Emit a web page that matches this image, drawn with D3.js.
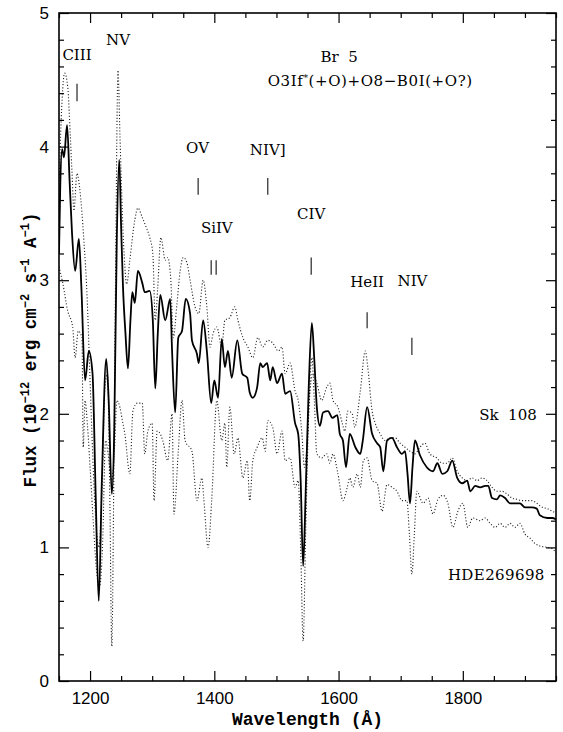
<!DOCTYPE html>
<html><head><meta charset="utf-8">
<script src="https://cdn.jsdelivr.net/npm/d3@7/dist/d3.min.js"></script>
<style>body{margin:0;background:#fff}svg{display:block}</style>
</head><body>
<svg id="c" width="563" height="732"></svg>
<script>
// ---------- data (wavelength in Å, flux in 1e-12 erg cm^-2 s^-1 A^-1) ----------
const br5Wave = [1150,1152,1155,1158,1163,1167,1171,1176,1182,1186,1192,1198,1204,1209,1214,1219,1226,1230,1235,1239,1243,1247,1250,1253,1257,1261,1265,1268,1272,1277,1284,1288,1296,1301,1305,1309,1313,1321,1329,1332,1337,1342,1348,1354,1361,1364,1372,1375,1382,1388,1395,1400,1406,1412,1417,1422,1428,1437,1445,1453,1457,1462,1469,1474,1478,1485,1490,1494,1501,1509,1514,1522,1530,1535,1539,1543,1547,1552,1557,1561,1565,1570,1575,1583,1590,1598,1602,1607,1612,1618,1627,1635,1639,1646,1654,1662,1667,1672,1678,1686,1694,1702,1707,1711,1715,1719,1723,1731,1742,1752,1759,1767,1775,1783,1791,1799,1807,1812,1820,1828,1836,1841,1847,1855,1860,1868,1876,1884,1892,1900,1911,1919,1924,1936,1944,1950];
const br5Flux = [3.2,3.7,3.98,3.92,4.16,3.75,3.35,3.07,3.31,2.95,2.25,2.47,2.3,1.4,0.6,1.5,2.41,2.1,1.4,1.9,3.3,3.9,3.4,2.95,2.6,2.34,2.7,2.91,2.83,3.07,2.98,2.91,2.92,2.7,2.19,2.6,2.89,2.7,2.86,2.47,2.01,2.57,2.62,2.86,2.75,2.55,2.45,2.38,2.7,2.47,2.08,2.25,2.12,2.56,2.35,2.47,2.27,2.55,2.3,2.27,2.16,2.12,2.2,2.38,2.35,2.38,2.25,2.35,2.23,2.3,2.15,2.17,1.93,1.85,1.5,0.86,1.4,2.2,2.68,2.4,2.05,1.91,2.01,2.02,1.97,1.99,1.85,1.8,1.6,1.85,1.75,1.7,1.8,2.05,1.85,1.78,1.75,1.57,1.8,1.82,1.75,1.7,1.72,1.55,1.33,1.6,1.8,1.69,1.6,1.57,1.63,1.55,1.57,1.65,1.52,1.48,1.5,1.42,1.46,1.45,1.46,1.46,1.37,1.36,1.39,1.37,1.33,1.33,1.33,1.3,1.3,1.29,1.24,1.22,1.22,1.21];

const sk108Wave = [1150,1152,1155,1159,1164,1168,1171,1174,1179,1183,1187,1190,1195,1200,1203,1208,1214,1219,1224,1228,1232,1235,1238,1241,1245,1248,1252,1256,1259,1264,1272,1277,1284,1290,1296,1301,1305,1309,1314,1321,1325,1330,1334,1340,1345,1350,1356,1361,1369,1375,1382,1388,1393,1398,1404,1412,1417,1425,1433,1438,1446,1454,1462,1470,1478,1486,1494,1503,1509,1514,1522,1530,1535,1541,1545,1549,1553,1558,1565,1573,1581,1586,1591,1599,1606,1610,1615,1622,1626,1635,1643,1647,1654,1659,1667,1675,1683,1691,1699,1707,1715,1723,1731,1739,1747,1758,1767,1775,1783,1791,1799,1807,1815,1823,1831,1839,1847,1855,1863,1871,1879,1887,1895,1903,1911,1919,1928,1936,1944,1950];
const sk108Flux = [3.6,3.99,4.35,4.55,4.45,4.1,3.8,3.52,3.8,3.7,3.5,3.3,2.9,2.25,1.85,1.3,1.0,1.4,2.2,2.3,1.3,0.26,1.4,3.0,4.57,4.1,3.5,3.1,2.97,3.15,3.45,3.54,3.47,3.4,3.32,3.2,2.7,2.95,3.32,3.15,3.17,3.0,2.57,2.83,3.07,3.17,3.13,3.0,2.8,2.75,3.0,2.8,2.5,2.6,2.65,2.5,2.7,2.72,2.8,2.7,2.57,2.5,2.42,2.57,2.5,2.55,2.53,2.47,2.5,2.3,2.38,2.17,2.1,1.85,1.6,1.75,2.1,2.3,2.23,2.1,2.2,2.23,2.1,2.05,1.93,1.87,2.02,2.0,1.9,2.17,2.47,2.35,2.02,1.93,1.85,1.8,1.82,1.82,1.78,1.75,1.72,1.7,1.75,1.78,1.7,1.67,1.63,1.63,1.67,1.57,1.52,1.5,1.52,1.5,1.52,1.5,1.45,1.42,1.42,1.4,1.37,1.36,1.35,1.35,1.35,1.33,1.3,1.29,1.27,1.26];

const hdeWave = [1150,1156,1164,1172,1176,1181,1187,1189,1192,1196,1200,1205,1210,1215,1220,1225,1229,1235,1240,1243,1248,1252,1256,1264,1269,1276,1284,1288,1293,1300,1303,1308,1313,1317,1325,1332,1335,1342,1348,1353,1364,1372,1380,1383,1390,1396,1404,1412,1417,1420,1425,1432,1438,1446,1453,1457,1462,1469,1477,1482,1486,1494,1501,1509,1514,1522,1530,1535,1539,1543,1547,1552,1557,1561,1565,1573,1581,1586,1591,1599,1607,1614,1618,1623,1630,1635,1640,1646,1654,1662,1670,1678,1686,1694,1702,1710,1714,1718,1722,1726,1736,1744,1752,1760,1768,1776,1784,1792,1800,1808,1816,1828,1836,1844,1852,1860,1868,1876,1884,1892,1900,1908,1916,1924,1936,1944,1950];
const hdeFlux = [3.1,2.98,2.77,2.65,2.42,2.62,2.57,1.75,2.1,1.9,1.6,1.2,0.85,0.7,1.0,1.8,1.7,1.5,1.8,2.1,2.05,1.95,1.85,1.55,2.02,2.08,2.08,1.7,1.87,1.93,1.35,1.87,1.85,1.8,1.65,2.0,1.25,1.72,2.1,1.8,1.72,1.35,1.52,1.37,1.0,1.37,2.1,1.8,1.93,1.6,2.05,1.7,1.82,1.52,1.65,1.35,1.65,1.75,1.82,1.72,1.95,1.9,1.7,1.87,1.65,1.67,1.45,1.5,1.0,0.3,1.1,2.0,2.42,2.1,1.7,1.67,1.7,1.63,1.7,1.55,1.35,1.45,1.52,1.45,1.55,1.45,1.65,1.67,1.5,1.48,1.27,1.47,1.45,1.42,1.35,1.35,1.1,0.8,1.1,1.42,1.33,1.37,1.25,1.36,1.39,1.33,1.15,1.27,1.33,1.15,1.22,1.2,1.22,1.18,1.15,1.18,1.15,1.18,1.15,1.18,1.1,1.07,1.03,1.01,1.0,0.99,0.96];

const xMajorTicks = [1200,1400,1600,1800];
const xMinorTicks = [1150,1250,1300,1350,1450,1500,1550,1650,1700,1750,1850,1900,1950];
const yMajorTicks = [0,1,2,3,4,5];
const yMinorTicks = [0.2,0.4,0.6,0.8,1.2,1.4,1.6,1.8,2.2,2.4,2.6,2.8,3.2,3.4,3.6,3.8,4.2,4.4,4.6,4.8];

// spectral line identifications
const lineNames = ["CIII","NV","OV","NIV]","SiIV","CIV","HeII","NIV"];
const lineLabelWave = [1179,1245,1373,1486,1404,1556,1646,1719];
const lineLabelFlux = [4.65,4.76,3.95,3.94,3.35,3.46,2.95,2.96];
const markerWave = [1179,1374,1486,1395,1403,1556,1646,1718];
const markerTop = [4.47,3.765,3.765,3.15,3.15,3.17,2.76,2.57];
const markerBottom = [4.34,3.64,3.64,3.04,3.04,3.04,2.64,2.44];

// ---------- chart ----------
const M = {left:59, right:556, top:13, bottom:681};
const x = d3.scaleLinear().domain([1150,1950]).range([M.left, M.right]);
const y = d3.scaleLinear().domain([0,5]).range([M.bottom, M.top]);
const svg = d3.select("#c");

const serif = "'DejaVu Serif', serif";
const mono = "'Liberation Mono', 'DejaVu Sans Mono', monospace";
const sans = "'Liberation Sans', Arial, sans-serif";

svg.append("clipPath").attr("id","plotclip")
  .append("rect").attr("x",M.left).attr("y",M.top).attr("width",M.right-M.left).attr("height",M.bottom-M.top);

const line = d3.line().x(d=>x(d[0])).y(d=>y(d[1])).curve(d3.curveMonotoneX);
const zip = (a,b)=>a.map((v,i)=>[v,b[i]]);

const g = svg.append("g").attr("clip-path","url(#plotclip)");
g.append("path").datum(zip(sk108Wave, sk108Flux)).attr("d",line)
  .attr("fill","none").attr("stroke","#222").attr("stroke-width",1.1).attr("stroke-dasharray","1.1,2");
g.append("path").datum(zip(hdeWave, hdeFlux)).attr("d",line)
  .attr("fill","none").attr("stroke","#222").attr("stroke-width",1.1).attr("stroke-dasharray","1.1,2");
g.append("path").datum(zip(br5Wave, br5Flux)).attr("d",line)
  .attr("fill","none").attr("stroke","#000").attr("stroke-width",1.8).attr("stroke-linejoin","round");

// axes (ticks pointing inward on all four sides)
function styleAxis(sel){ sel.select(".domain").remove(); sel.selectAll("line").attr("stroke","#000").attr("stroke-width",1.2); }
svg.append("g").attr("transform",`translate(0,${M.bottom})`)
  .call(d3.axisBottom(x).tickValues(xMinorTicks).tickSize(-5).tickFormat("")).call(styleAxis);
svg.append("g").attr("transform",`translate(0,${M.bottom})`)
  .call(d3.axisBottom(x).tickValues(xMajorTicks).tickSize(-10).tickPadding(11).tickFormat(d3.format("d")))
  .call(styleAxis)
  .selectAll("text").attr("font-family",sans).attr("font-size",17).attr("fill","#000");
svg.append("g").attr("transform",`translate(0,${M.top})`)
  .call(d3.axisTop(x).tickValues(xMinorTicks).tickSize(-5).tickFormat("")).call(styleAxis);
svg.append("g").attr("transform",`translate(0,${M.top})`)
  .call(d3.axisTop(x).tickValues(xMajorTicks).tickSize(-10).tickFormat("")).call(styleAxis);

svg.append("g").attr("transform",`translate(${M.left},0)`)
  .call(d3.axisLeft(y).tickValues(yMinorTicks).tickSize(-5).tickFormat("")).call(styleAxis);
svg.append("g").attr("transform",`translate(${M.left},0)`)
  .call(d3.axisLeft(y).tickValues(yMajorTicks).tickSize(-10).tickPadding(10).tickFormat(d3.format("d")))
  .call(styleAxis)
  .selectAll("text").attr("font-family",sans).attr("font-size",17).attr("fill","#000");
svg.append("g").attr("transform",`translate(${M.right},0)`)
  .call(d3.axisRight(y).tickValues(yMinorTicks).tickSize(-5).tickFormat("")).call(styleAxis);
svg.append("g").attr("transform",`translate(${M.right},0)`)
  .call(d3.axisRight(y).tickValues(yMajorTicks).tickSize(-10).tickFormat("")).call(styleAxis);

svg.append("rect").attr("x",M.left).attr("y",M.top).attr("width",M.right-M.left).attr("height",M.bottom-M.top)
  .attr("fill","none").attr("stroke","#000").attr("stroke-width",1.6);

// axis titles
svg.append("text").attr("x",(M.left+M.right)/2).attr("y",725).attr("text-anchor","middle")
  .attr("font-family",mono).attr("font-weight","bold").attr("font-size",18).attr("fill","#000")
  .text("Wavelength (Å)");

const yt = svg.append("text").attr("transform",`translate(36,350) rotate(-90)`)
  .attr("text-anchor","middle").attr("font-family",mono).attr("font-weight","bold").attr("font-size",17.5).attr("fill","#000");
const parts = [["Flux (10",0],["−12",1],[" erg cm",0],["−2",1],[" s",0],["−1",1],[" A",0],["−1",1],[")",0]];
let prevSup = 0;
parts.forEach(([t,s])=>{
  const ts = yt.append("tspan").text(t);
  if (s) ts.attr("font-size",12).attr("dy", prevSup? 0 : -7);
  else ts.attr("dy", prevSup ? 7 : 0);
  prevSup = s;
});

// line markers
svg.append("g").selectAll("line").data(markerWave).join("line")
  .attr("x1",d=>x(d)).attr("x2",d=>x(d))
  .attr("y1",(d,i)=>y(markerTop[i])).attr("y2",(d,i)=>y(markerBottom[i]))
  .attr("stroke","#444").attr("stroke-width",1.4);

svg.append("g").selectAll("text").data(lineNames).join("text")
  .attr("x",(d,i)=>x(lineLabelWave[i])).attr("y",(d,i)=>y(lineLabelFlux[i]))
  .attr("text-anchor","middle").attr("font-family",serif).attr("font-size",15).attr("fill","#000")
  .text(d=>d);

// titles / star names
svg.append("text").attr("x",x(1601)).attr("y",y(4.63)).attr("text-anchor","middle")
  .attr("font-family",serif).attr("font-size",15).attr("fill","#000").attr("xml:space","preserve").text("Br  5");
const sp = svg.append("text").attr("x",x(1651)).attr("y",y(4.45)).attr("text-anchor","middle")
  .attr("font-family",serif).attr("font-size",15).attr("fill","#000").attr("letter-spacing",0.6);
sp.append("tspan").text("O3If");
sp.append("tspan").text("*").attr("font-size",9).attr("dy",-5);
sp.append("tspan").text("(+O)+O8−B0I(+O?)").attr("dy",5);

svg.append("text").attr("x",x(1919)).attr("y",y(1.95)).attr("text-anchor","end")
  .attr("font-family",serif).attr("font-size",15).attr("fill","#000").attr("xml:space","preserve").text("Sk  108");
svg.append("text").attr("x",x(1932)).attr("y",y(0.756)).attr("text-anchor","end")
  .attr("font-family",serif).attr("font-size",15).attr("fill","#000").attr("letter-spacing",0.4).text("HDE269698");
</script>
</body></html>
